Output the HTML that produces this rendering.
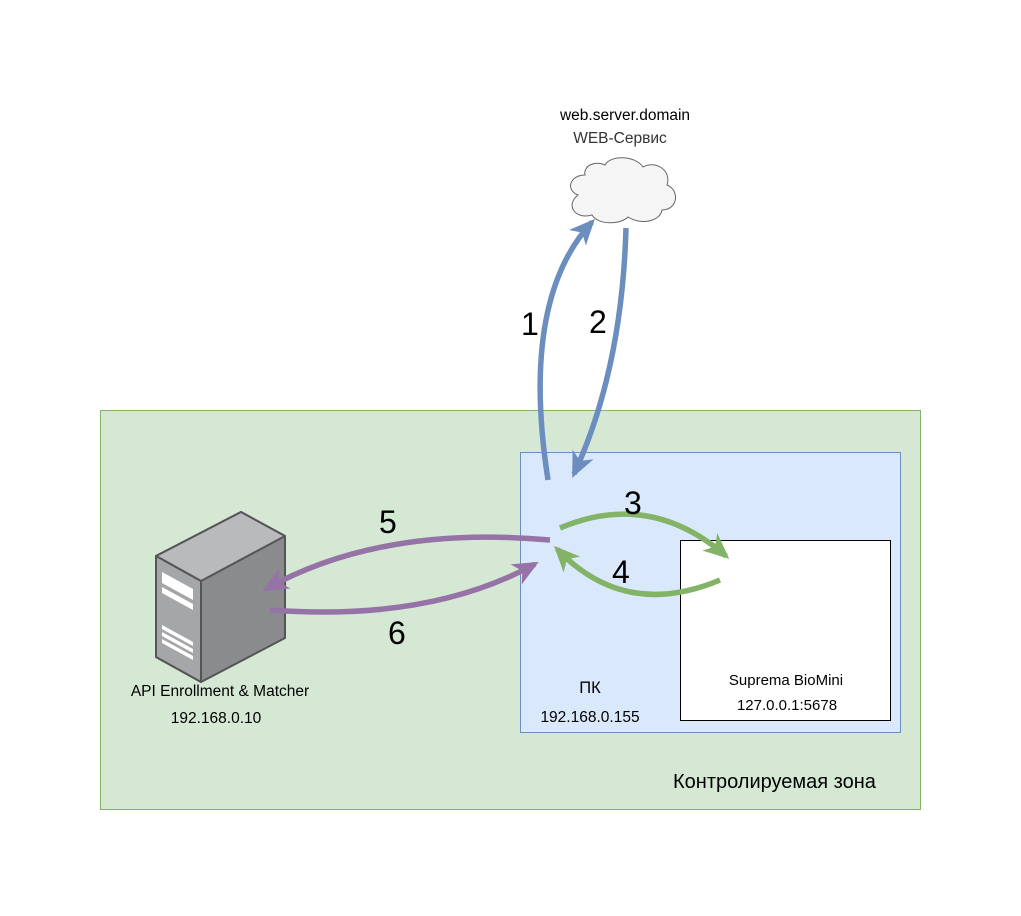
<!DOCTYPE html>
<html><head><meta charset="utf-8"><style>
body{margin:0;background:#fff;width:1021px;height:911px;overflow:hidden;font-family:"Liberation Sans","DejaVu Sans",sans-serif}
</style></head><body>
<svg width="1021" height="911" viewBox="0 0 1021 911" xmlns="http://www.w3.org/2000/svg" font-family="Liberation Sans, DejaVu Sans, sans-serif">
<defs>
<marker id="mb" viewBox="0 0 18 16" markerUnits="userSpaceOnUse" markerWidth="26" markerHeight="23" refX="15" refY="8" orient="auto"><path d="M0,0 L18,8 L0,16 L5,8 z" fill="#6c8ebf"/></marker>
<marker id="mg" viewBox="0 0 18 16" markerUnits="userSpaceOnUse" markerWidth="26" markerHeight="23" refX="15" refY="8" orient="auto"><path d="M0,0 L18,8 L0,16 L5,8 z" fill="#82b366"/></marker>
<marker id="mp" viewBox="0 0 18 16" markerUnits="userSpaceOnUse" markerWidth="26" markerHeight="23" refX="15" refY="8" orient="auto"><path d="M0,0 L18,8 L0,16 L5,8 z" fill="#9673a6"/></marker>
</defs>
<rect x="100.5" y="410.5" width="820" height="399" fill="#d5e8d4" stroke="#82b366"/>
<rect x="520.5" y="452.5" width="380" height="280" fill="#dae8fc" stroke="#6c8ebf"/>
<rect x="680.5" y="540.5" width="210" height="180" fill="#fff" stroke="#000"/>
<text x="673" y="788" font-size="20" fill="#000">Контролируемая зона</text>
<text x="590" y="693" font-size="16.5" text-anchor="middle">ПК</text>
<text x="590" y="722" font-size="15.5" text-anchor="middle">192.168.0.155</text>
<text x="786" y="685" font-size="15" text-anchor="middle">Suprema BioMini</text>
<text x="787" y="710" font-size="15" text-anchor="middle">127.0.0.1:5678</text>
<text x="220" y="696" font-size="15.5" text-anchor="middle">API Enrollment &amp; Matcher</text>
<text x="216" y="723" font-size="15.5" text-anchor="middle">192.168.0.10</text>
<text x="625" y="120" font-size="15.5" text-anchor="middle">web.server.domain</text>
<text x="620" y="143" font-size="15.5" text-anchor="middle" fill="#333">WEB-Сервис</text>
<path d="M585,175 C570,175 565,190 578,195 C565,205 575,220 592,215 C598,225 620,225 628,217 C640,225 660,222 662,210 C678,210 680,190 667,185 C672,170 655,160 643,167 C635,155 610,155 605,165 C595,160 583,166 585,175 z" fill="#f5f5f5" stroke="#666" stroke-width="1"/>
<g stroke="#555" stroke-width="2" stroke-linejoin="round">
<polygon points="156,556 241,512 285,536 285,638 201,682 156,657" fill="#8a8b8d"/>
<polygon points="156,556 241,512 285,536 201,581" fill="#b9babc"/>
<polygon points="156,556 201,581 201,682 156,657" fill="#a5a6a8"/>
</g>
<g fill="#fff">
<polygon points="162,572 193,589 193,600 162,583"/>
<polygon points="162,587 193,604 193,610 162,593"/>
<polygon points="162,625 193,642 193,646 162,629"/>
<polygon points="162,632 193,649 193,653 162,636"/>
<polygon points="162,639 193,656 193,660 162,643"/>
</g>
<g fill="none" stroke-width="5.5">
<path d="M548,480 Q520,300 592,222" stroke="#6c8ebf" marker-end="url(#mb)"/>
<path d="M626,228 Q622,370 574,474" stroke="#6c8ebf" marker-end="url(#mb)"/>
<path d="M560,528 Q650,490 726,556" stroke="#82b366" marker-end="url(#mg)"/>
<path d="M720,580 Q625,620 557,549" stroke="#82b366" marker-end="url(#mg)"/>
<path d="M550,540 Q380,525 266,589" stroke="#9673a6" marker-end="url(#mp)"/>
<path d="M270,610 Q430,622 535,564" stroke="#9673a6" marker-end="url(#mp)"/>
</g>
<g font-size="32">
<text x="521" y="335">1</text>
<text x="589" y="333">2</text>
<text x="624" y="514">3</text>
<text x="612" y="583">4</text>
<text x="379" y="533">5</text>
<text x="388" y="644">6</text>
</g>
</svg>
</body></html>
